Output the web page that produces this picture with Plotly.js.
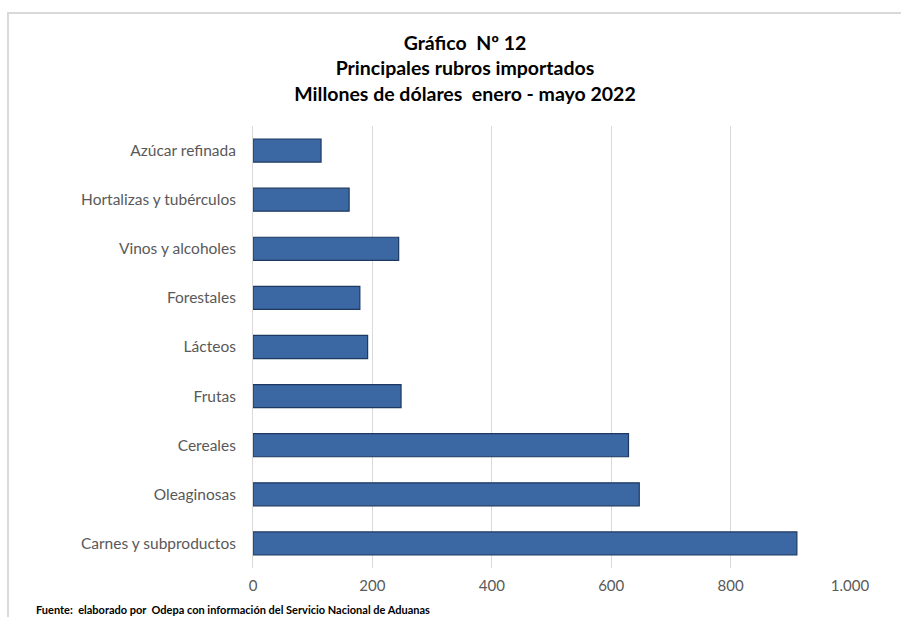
<!DOCTYPE html>
<html>
<head>
<meta charset="utf-8">
<script src="https://cdn.plot.ly/plotly-3.0.1.min.js"></script>
<style>
  html, body { margin: 0; padding: 0; background: #fff; }
  #wrap { position: relative; width: 901px; height: 617px; overflow: hidden; }
  #frame { position: absolute; left: 7px; top: 12px; width: 900px; height: 620px;
           border-top: 2px solid #d9d9d9; border-left: 2px solid #d9d9d9; box-sizing: border-box; pointer-events: none; }
  #chart { position: absolute; left: 0; top: 0; width: 901px; height: 617px; }
</style>
</head>
<body>
<div id="wrap">
  <div id="chart"></div>
  <div id="frame"></div>
</div>
<script>
const categories = [
  "Carnes y subproductos",
  "Oleaginosas",
  "Cereales",
  "Frutas",
  "Lácteos",
  "Forestales",
  "Vinos y alcoholes",
  "Hortalizas y tubérculos",
  "Azúcar refinada"
];
const values = [911, 647, 629, 248, 192, 179, 244, 161, 114];
const tickValues = [0, 200, 400, 600, 800, 1000];
const titleLines = ["Gráfico  Nº 12", "Principales rubros importados", "Millones de dólares  enero - mayo 2022"];

const W = 901, H = 617;
const margin = { l: 253, r: 51, t: 126, b: 49 };
const plotW = W - margin.l - margin.r;

const data = [{
  type: "bar",
  orientation: "h",
  y: categories,
  x: values,
  width: 0.47,
  marker: { color: "#3b67a3", line: { color: "#1d3961", width: 1.2 } },
  hoverinfo: "x+y"
}];

const layout = {
  width: W, height: H,
  margin: margin,
  paper_bgcolor: "rgba(0,0,0,0)",
  plot_bgcolor: "rgba(0,0,0,0)",
  separators: ",.",
  font: { family: "Lato, 'Open Sans', sans-serif", color: "#595959", size: 15 },
  title: {
    text: "<b>" + titleLines.join("<br>") + "</b>",
    font: { family: "Lato, sans-serif", size: 19.5, color: "#000" },
    xref: "container", x: 465 / W, xanchor: "center",
    yref: "container", y: 1 - 50 / H, yanchor: "top"
  },
  xaxis: {
    range: [0, 1000],
    tickvals: tickValues,
    tickformat: ",d",
    showgrid: true, gridcolor: "#d9d9d9", gridwidth: 1,
    zeroline: false, showline: false,
    ticks: "", ticklabelstandoff: 7,
    tickfont: { size: 15, color: "#595959" },
    fixedrange: true
  },
  yaxis: {
    type: "category",
    categoryorder: "array", categoryarray: categories,
    showgrid: false, zeroline: false,
    showline: true, linecolor: "#d9d9d9", linewidth: 1,
    ticks: "", ticklabelstandoff: 13,
    tickfont: { size: 15.5, color: "#595959" },
    fixedrange: true
  },
  showlegend: false,
  annotations: [{
    text: "<b>Fuente:  elaborado por  Odepa con información del Servicio Nacional de Aduanas</b>",
    xref: "paper", x: (34 - margin.l) / plotW, xanchor: "left",
    yref: "paper", y: -(609 - (H - margin.b)) / (H - margin.t - margin.b), yanchor: "middle",
    showarrow: false,
    font: { family: "Lato, sans-serif", size: 11, color: "#000" }
  }]
};

Plotly.newPlot("chart", data, layout, { displayModeBar: false, staticPlot: true });
</script>
</body>
</html>
